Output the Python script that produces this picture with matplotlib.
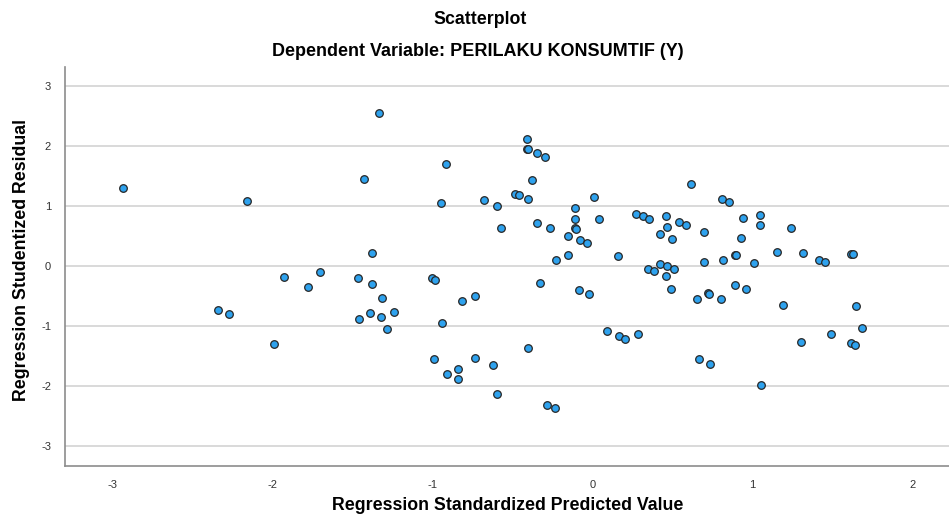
import matplotlib
matplotlib.use("Agg")
import matplotlib.pyplot as plt

plt.rcParams['font.family'] = ['Liberation Sans', 'DejaVu Sans']
plt.rcParams['axes.unicode_minus'] = False

# Regression standardized predicted value (x) and studentized residual (y)
pred = [-2.929, -2.158, -1.929, -1.700, -1.464, -2.336, -2.269, -1.988, -1.777, -1.456,
        -1.331, -1.429, -0.914, -0.946, -1.377, -1.002, -0.981, -0.679, -0.598, -0.569,
        -0.481, -0.456, -0.402, -0.408, -0.408, -0.402, -0.344, -0.298, -0.377, -0.344,
        -0.267, -0.111, -0.108, -0.111, -0.104, -0.152, -0.077, -0.036, -0.227, -0.150,
        0.008, 0.044, 0.158, 0.273, -1.377, -1.311, -1.389, -1.323, -1.242, -1.283,
        -0.814, -0.736, -0.942, -0.988, -0.906, -0.842, -0.842, -0.731, -0.621, -0.596,
        -0.404, -0.329, -0.286, -0.231, -0.083, -0.019, 0.089, 0.164, 0.204, 0.283,
        0.314, 0.352, 0.463, 0.467, 0.425, 0.500, 0.539, 0.588, 0.619, 0.700,
        0.813, 0.852, 0.939, 1.048, 1.048, 0.929, 1.239, 0.698, 0.814, 0.894,
        0.898, 1.008, 1.152, 1.313, 1.414, 1.452, 1.613, 1.627, 0.346, 0.383,
        0.423, 0.467, 0.508, 0.458, 0.492, 0.652, 0.723, 0.731, 0.806, 0.889,
        0.963, 1.194, 1.648, 1.683, 1.488, 1.302, 1.613, 1.642, 0.669, 0.736,
        1.056]
resid = [1.295, 1.083, -0.180, -0.100, -0.210, -0.738, -0.805, -1.300, -0.350, -0.883,
         2.540, 1.440, 1.690, 1.050, 0.207, -0.210, -0.238, 1.090, 0.995, 0.633,
         1.190, 1.173, 1.110, 2.107, 1.940, 1.940, 1.878, 1.817, 1.433, 0.717,
         0.633, 0.957, 0.783, 0.623, 0.620, 0.500, 0.423, 0.378, 0.095, 0.173,
         1.150, 0.783, 0.162, 0.867, -0.300, -0.543, -0.783, -0.855, -0.777, -1.060,
         -0.588, -0.510, -0.955, -1.550, -1.805, -1.717, -1.883, -1.543, -1.655, -2.138,
         -1.377, -0.294, -2.317, -2.377, -0.400, -0.472, -1.093, -1.177, -1.222, -1.138,
         0.823, 0.778, 0.823, 0.650, 0.528, 0.440, 0.728, 0.678, 1.357, 0.557,
         1.117, 1.062, 0.795, 0.840, 0.673, 0.467, 0.623, 0.062, 0.095, 0.183,
         0.180, 0.050, 0.223, 0.212, 0.100, 0.057, 0.200, 0.200, -0.050, -0.083,
         0.033, -0.010, -0.055, -0.172, -0.383, -0.550, -0.460, -0.472, -0.555, -0.317,
         -0.393, -0.660, -0.667, -1.033, -1.143, -1.272, -1.288, -1.327, -1.560, -1.643,
         -1.988]

x_ticks = [-3, -2, -1, 0, 1, 2]
y_ticks = [-3, -2, -1, 0, 1, 2, 3]

fig = plt.figure(figsize=(9.49, 5.2), dpi=100)
ax = fig.add_axes([0.0685, 0.1044, 0.931, 0.7673])

ax.scatter(pred, resid, s=30, facecolor='#2ea2ee', edgecolor='#262626',
           linewidth=0.9, zorder=3)

ax.set_xlim(-3.294, 2.225)
ax.set_ylim(-3.333, 3.317)
ax.set_xticks(x_ticks)
ax.set_yticks(y_ticks)
ax.tick_params(axis='both', length=0, labelsize=8, colors='#333333')
ax.tick_params(axis='x', pad=10)
ax.tick_params(axis='y', pad=10)

ax.grid(axis='y', color='#cfcfcf', linewidth=1.1, zorder=0)
ax.grid(axis='x', visible=False)
for side in ['top', 'right']:
    ax.spines[side].set_visible(False)
for side in ['left', 'bottom']:
    ax.spines[side].set_color('#8c8c8c')
    ax.spines[side].set_linewidth(1.2)

# axis titles placed like the SPSS output
fig.text(508 / 949, 1 - 506 / 520, 'Regression Standardized Predicted Value',
         ha='center', va='center', fontsize=12.8, fontweight='bold')
fig.text(22 / 949, 1 - 260 / 520, 'Regression Studentized Residual',
         ha='center', va='center', rotation=90, fontsize=12.8, fontweight='bold')

fig.text(480 / 949, 1 - 20 / 520, 'Scatterplot', ha='center', va='center',
         fontsize=12.8, fontweight='bold')
fig.text(478 / 949, 1 - 52 / 520, 'Dependent Variable: PERILAKU KONSUMTIF (Y)',
         ha='center', va='center', fontsize=13, fontweight='bold')

fig.savefig('out.png', dpi=100)
